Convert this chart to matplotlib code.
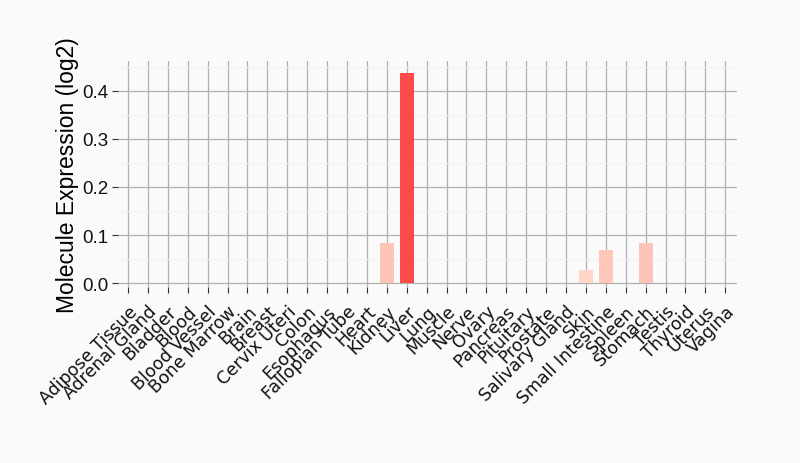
import matplotlib
matplotlib.use('Agg')
import matplotlib.pyplot as plt
from matplotlib.ticker import MultipleLocator
from matplotlib.transforms import ScaledTranslation

# Tissues and expression values (log2)
tissues = ['Adipose Tissue', 'Adrenal Gland', 'Bladder', 'Blood', 'Blood Vessel',
           'Bone Marrow', 'Brain', 'Breast', 'Cervix Uteri', 'Colon', 'Esophagus',
           'Fallopian Tube', 'Heart', 'Kidney', 'Liver', 'Lung', 'Muscle', 'Nerve',
           'Ovary', 'Pancreas', 'Pituitary', 'Prostate', 'Salivary Gland', 'Skin',
           'Small Intestine', 'Spleen', 'Stomach', 'Testis', 'Thyroid', 'Uterus', 'Vagina']
values = [0, 0, 0, 0, 0, 0, 0, 0, 0, 0, 0, 0, 0, 0.083, 0.437, 0, 0, 0, 0, 0, 0, 0, 0,
          0.027, 0.068, 0, 0.083, 0, 0, 0, 0]
colors = ['#ffc6ba'] * len(tissues)
colors[14] = '#ff4a4a'
colors[13] = '#ffc4b8'
colors[23] = '#ffd6c8'
colors[24] = '#ffc6ba'
colors[26] = '#ffc4b8'

bg = '#fafafa'
fig = plt.figure(figsize=(8, 4.64), dpi=100, facecolor=bg)
# panel: x 118..737 px, y 62..288 px
ax = fig.add_axes([0.1475, 0.379, 0.774, 0.487], facecolor=bg)

x = list(range(len(tissues)))
ax.bar(x, values, width=0.7, color=colors, zorder=3)

ax.set_xlim(-0.5, len(tissues) - 0.4)
ax.set_ylim(-0.0083, 0.4615)
ax.yaxis.set_minor_locator(MultipleLocator(0.05))
ax.set_yticks([0, 0.1, 0.2, 0.3, 0.4])
ax.set_yticklabels(['0.0', '0.1', '0.2', '0.3', '0.4'], fontsize=13.5, family='Liberation Sans')
ax.set_xticks(x)
ax.set_xticklabels(tissues, rotation=45, ha='right', va='top', rotation_mode='anchor',
                   fontsize=12.5, family='DejaVu Sans')
# shift x labels a little to the right, like the reference
shift = ScaledTranslation(6 / 100, 0, fig.dpi_scale_trans)
for lbl in ax.get_xticklabels():
    lbl.set_transform(lbl.get_transform() + shift)

ax.grid(which='major', color='#b0b0b0', linewidth=0.9, zorder=0)
ax.grid(which='minor', axis='y', color='#f3f3f3', linewidth=0.8, zorder=0)
for s in ax.spines.values():
    s.set_visible(False)
ax.tick_params(axis='both', which='major', length=4, color='#333333', labelcolor='#111111')
ax.tick_params(axis='x', pad=6.5)
ax.tick_params(axis='y', pad=3)
ax.tick_params(axis='y', which='minor', length=0)

ax.set_ylabel('Molecule Expression (log2)', fontsize=16.5, family='Liberation Sans', labelpad=2)

fig.savefig('out.png', dpi=100, facecolor=bg)
